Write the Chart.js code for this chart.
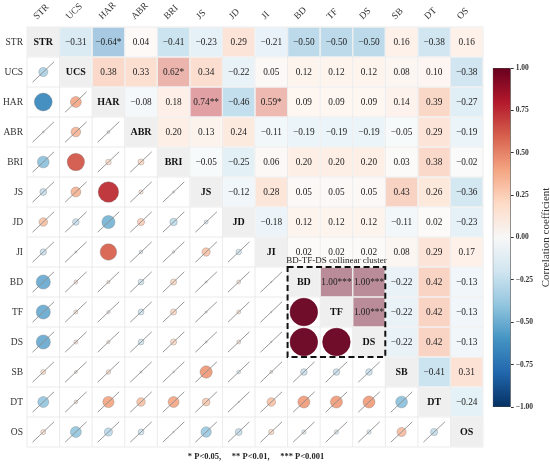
<!DOCTYPE html>
<html><head><meta charset="utf-8">
<script src="https://cdn.jsdelivr.net/npm/chart.js@4.4.0/dist/chart.umd.min.js"></script>
<style>
html,body{margin:0;padding:0;background:#fff;}
#wrap{position:relative;width:550px;height:464px;overflow:hidden;}
#main{position:absolute;left:0;top:0;}
#cb{position:absolute;left:485px;top:58px;}
</style></head><body>
<div id="wrap">
<canvas id="main" width="550" height="464"></canvas>
<canvas id="cb" width="65" height="360"></canvas>
</div>
<script>
// ---------- DATA ----------
const variables = ['STR','UCS','HAR','ABR','BRI','JS','JD','JI','BD','TF','DS','SB','DT','OS'];
// upper-triangle correlations, row by row (values to the right of the diagonal)
const rSTR = [-0.31,-0.64,0.04,-0.41,-0.23,0.29,-0.21,-0.50,-0.50,-0.50,0.16,-0.38,0.16];
const rUCS = [0.38,0.33,0.62,0.34,-0.22,0.05,0.12,0.12,0.12,0.08,0.10,-0.38];
const rHAR = [-0.08,0.18,0.74,-0.46,0.59,0.09,0.09,0.09,0.14,0.39,-0.27];
const rABR = [0.20,0.13,0.24,-0.11,-0.19,-0.19,-0.19,-0.05,0.29,-0.19];
const rBRI = [-0.05,-0.25,0.06,0.20,0.20,0.20,0.03,0.38,-0.02];
const rJS  = [-0.12,0.28,0.05,0.05,0.05,0.43,0.26,-0.36];
const rJD  = [-0.18,0.12,0.12,0.12,-0.11,0.02,-0.23];
const rJI  = [0.02,0.02,0.02,0.08,0.29,0.17];
const rBD  = [1.00,1.00,-0.22,0.42,-0.13];
const rTF  = [1.00,-0.22,0.42,-0.13];
const rDS  = [-0.22,0.42,-0.13];
const rSB  = [-0.41,0.31];
const rDT  = [-0.24];
const significance = {'STR|HAR':'*','UCS|BRI':'*','HAR|JS':'**','HAR|JI':'*','BD|TF':'***','BD|DS':'***','TF|DS':'***'};
const clusterVars = ['BD','TF','DS'];
const clusterLabel = 'BD-TF-DS collinear cluster';
const footnote = '* P<0.05,     ** P<0.01,     *** P<0.001';
const colorbarTicks = [-1,-0.75,-0.5,-0.25,0,0.25,0.5,0.75,1];
const colorbarTitle = 'Correlation coefficient';

// ---------- helpers ----------
const SERIF = '"Liberation Serif","Times New Roman",serif';
const rowsArr = [rSTR,rUCS,rHAR,rABR,rBRI,rJS,rJD,rJI,rBD,rTF,rDS,rSB,rDT];
const N = variables.length;
const M = variables.map(()=>variables.map(()=>1));
rowsArr.forEach((arr,i)=>arr.forEach((v,k)=>{const j=i+1+k; M[i][j]=v; M[j][i]=v;}));
const sigOf = (i,j)=>significance[variables[Math.min(i,j)]+'|'+variables[Math.max(i,j)]]||'';
const STOPS = [[-1,[5,48,97]],[-0.8,[33,102,172]],[-0.6,[67,147,195]],[-0.4,[146,197,222]],[-0.2,[209,229,240]],[0,[247,247,247]],[0.2,[253,219,199]],[0.4,[244,165,130]],[0.6,[214,96,77]],[0.8,[178,24,43]],[1,[103,0,31]]];
function rdbu(v){
  v=Math.max(-1,Math.min(1,v));
  for(let k=0;k<STOPS.length-1;k++){
    const [a,ca]=STOPS[k],[b,cb]=STOPS[k+1];
    if(v>=a&&v<=b){const t=(v-a)/(b-a);return ca.map((c,n)=>Math.round(c+(cb[n]-c)*t));}
  }
  return STOPS[STOPS.length-1][1];
}
const rgba=(c,a)=>`rgba(${c[0]},${c[1]},${c[2]},${a})`;
const fmt=v=>(v<0?'\u2212':'')+Math.abs(v).toFixed(2);

const lowerPoints=[];
for(let i=1;i<N;i++)for(let j=0;j<i;j++)lowerPoints.push({x:j,y:i,v:M[i][j],s:sigOf(i,j)});

function cellGeom(chart,i,j){
  const xs=chart.scales.x, ys=chart.scales.y;
  const x0=xs.getPixelForValue(j-0.5), x1=xs.getPixelForValue(j+0.5);
  const y0=ys.getPixelForValue(i-0.5), y1=ys.getPixelForValue(i+0.5);
  return {l:Math.min(x0,x1),r:Math.max(x0,x1),t:Math.min(y0,y1),b:Math.max(y0,y1),cx:xs.getPixelForValue(j),cy:ys.getPixelForValue(i)};
}

const matrixPlugin={
  id:'matrix',
  beforeDatasetsDraw(chart){
    const ctx=chart.ctx; ctx.save();
    for(let i=0;i<N;i++)for(let j=0;j<N;j++){
      const g=cellGeom(chart,i,j);
      let fill='#ffffff';
      if(i===j) fill='#efefef';
      else if(j>i) fill=rgba(rdbu(M[i][j]),0.45);
      ctx.fillStyle=fill;
      ctx.fillRect(g.l+0.6,g.t+0.6,g.r-g.l-1.2,g.b-g.t-1.2);
    }
    // faint grid
    ctx.strokeStyle='#e6e6e6'; ctx.lineWidth=0.8;
    for(let k=0;k<=N;k++){
      const gx=chart.scales.x.getPixelForValue(k-0.5);
      const gy=chart.scales.y.getPixelForValue(k-0.5);
      ctx.beginPath();ctx.moveTo(gx,chart.chartArea.top);ctx.lineTo(gx,chart.chartArea.bottom);ctx.stroke();
      ctx.beginPath();ctx.moveTo(chart.chartArea.left,gy);ctx.lineTo(chart.chartArea.right,gy);ctx.stroke();
    }
    ctx.restore();
  },
  afterDatasetsDraw(chart){
    const ctx=chart.ctx; ctx.save();
    // diagonal lines in lower non-significant cells
    ctx.strokeStyle='#8c8c8c'; ctx.lineWidth=0.9;
    lowerPoints.forEach(p=>{
      if(p.s) return;
      const g=cellGeom(chart,p.y,p.x);
      const dx=(g.r-g.l)*0.33, dy=(g.b-g.t)*0.34;
      ctx.beginPath();ctx.moveTo(g.cx-dx,g.cy+dy);ctx.lineTo(g.cx+dx,g.cy-dy);ctx.stroke();
    });
    // texts
    ctx.textAlign='center'; ctx.textBaseline='middle';
    for(let i=0;i<N;i++)for(let j=i;j<N;j++){
      const g=cellGeom(chart,i,j);
      if(i===j){ctx.font='bold 10px '+SERIF; ctx.fillStyle='#111'; ctx.fillText(variables[i],g.cx,g.cy);}
      else{ctx.font='9.3px '+SERIF; ctx.fillStyle='#222'; ctx.fillText(fmt(M[i][j])+sigOf(i,j),g.cx,g.cy+0.5);}
    }
    // cluster box
    const ia=variables.indexOf(clusterVars[0]), ib=variables.indexOf(clusterVars[clusterVars.length-1]);
    const a=cellGeom(chart,ia,ia), b=cellGeom(chart,ib,ib);
    ctx.setLineDash([6,3.5]); ctx.lineWidth=2; ctx.strokeStyle='#111';
    ctx.strokeRect(a.l,a.t,b.r-a.l,b.b-a.t);
    ctx.setLineDash([]);
    ctx.font='9px '+SERIF; ctx.fillStyle='#222'; ctx.textBaseline='alphabetic';
    ctx.fillText(clusterLabel,(a.l+b.r)/2,a.t-4);
    // footnote
    ctx.font='bold 8.5px '+SERIF; ctx.fillStyle='#222'; ctx.textBaseline='middle';
    ctx.fillText(footnote,256,457);
    ctx.restore();
  }
};

const tickList=s=>{s.ticks=variables.map((_,i)=>({value:i}));};

new Chart(document.getElementById('main'),{
  type:'scatter',
  data:{datasets:[{
    data:lowerPoints,
    pointRadius:ctx=>{const ch=ctx.chart.scales.y; const h=Math.abs(ch.getPixelForValue(1)-ch.getPixelForValue(0)); return Math.abs(ctx.raw.v)*0.445*h+0.4;},
    pointHoverRadius:ctx=>{const ch=ctx.chart.scales.y; const h=Math.abs(ch.getPixelForValue(1)-ch.getPixelForValue(0)); return Math.abs(ctx.raw.v)*0.445*h+0.4;},
    pointBackgroundColor:ctx=>rgba(rdbu(ctx.raw.v),0.95),
    pointBorderColor:ctx=>Math.abs(ctx.raw.v)>=0.99?'rgba(103,0,31,1)':'rgba(110,110,110,0.55)',
    pointBorderWidth:0.6
  }]},
  options:{
    responsive:false,animation:false,events:[],
    layout:{padding:{left:0,top:0,right:67,bottom:17}},
    plugins:{legend:{display:false},tooltip:{enabled:false}},
    scales:{
      x:{type:'linear',position:'top',min:-0.5,max:13.5,afterBuildTicks:tickList,afterFit:s=>{s.height=27;},
         ticks:{callback:v=>variables[v],autoSkip:false,minRotation:45,maxRotation:45,labelOffset:0,padding:5,font:{family:SERIF,size:9.5},color:'#333'},
         grid:{display:false,drawTicks:false},border:{display:false}},
      y:{type:'linear',reverse:true,min:-0.5,max:13.5,afterBuildTicks:tickList,afterFit:s=>{s.width=27;},
         ticks:{callback:v=>variables[v],autoSkip:false,padding:4,font:{family:SERIF,size:9.5},color:'#333'},
         grid:{display:false,drawTicks:false},border:{display:false}}
    }
  },
  plugins:[matrixPlugin]
});

// ---------- colorbar ----------
const cbTitlePlugin={
  id:'cbTitle',
  afterDraw(chart){
    const ctx=chart.ctx, a=chart.chartArea; ctx.save();
    ctx.translate(61,(a.top+a.bottom)/2); ctx.rotate(-Math.PI/2);
    ctx.font='11px '+SERIF; ctx.fillStyle='#333'; ctx.textAlign='center'; ctx.textBaseline='middle';
    ctx.fillText(colorbarTitle,0,0); ctx.restore();
  }
};
new Chart(document.getElementById('cb'),{
  type:'bar',
  data:{labels:[''],datasets:[{
    data:[[colorbarTicks[0],colorbarTicks[colorbarTicks.length-1]]],
    backgroundColor:ctx=>{
      const a=ctx.chart.chartArea; if(!a) return '#ccc';
      const g=ctx.chart.ctx.createLinearGradient(0,a.bottom,0,a.top);
      for(let k=0;k<=40;k++){const v=-1+k/20; g.addColorStop(k/40,rgba(rdbu(v),1));}
      return g;
    },
    borderColor:'#444',borderWidth:0.8,borderSkipped:false,barPercentage:1,categoryPercentage:1
  }]},
  options:{
    responsive:false,animation:false,events:[],
    layout:{padding:{left:7.7,top:10,bottom:11,right:0}},
    plugins:{legend:{display:false},tooltip:{enabled:false}},
    scales:{
      x:{display:false},
      y:{position:'right',min:-1,max:1,afterBuildTicks:s=>{s.ticks=colorbarTicks.map(v=>({value:v}));},afterFit:s=>{s.width=39.3;},
         ticks:{callback:v=>fmt(v),padding:2,font:{family:SERIF,size:7.5,weight:'bold'},color:'#333'},
         grid:{drawOnChartArea:false,drawTicks:true,tickLength:3,color:'#333'},border:{display:false}}
    }
  },
  plugins:[cbTitlePlugin]
});
</script>
</body></html>
